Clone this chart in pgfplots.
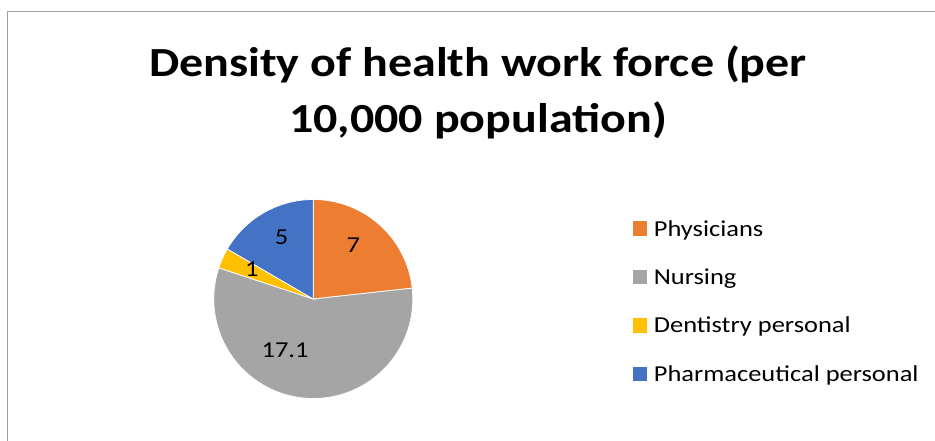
\documentclass[border=0pt]{standalone}
\usepackage{pgfplots}
\pgfplotsset{compat=1.18}
\usepackage{pgfplotstable}
\usepackage{fontspec}
\setmainfont{Carlito}[FakeStretch=1.16]
\definecolor{cPhy}{HTML}{ED7D31}
\definecolor{cNur}{HTML}{A5A5A5}
\definecolor{cDen}{HTML}{FFC000}
\definecolor{cPha}{HTML}{4472C4}
\definecolor{cFrame}{HTML}{A0A0A0}

\pgfplotstableread{
name value
Physicians 7
Nursing 17.1
Dentistry 1
Pharmaceutical 5
}\piedata

\begin{document}
\begin{tikzpicture}
\pgfplotstablegetelem{0}{value}\of\piedata \let\vA\pgfplotsretval
\pgfplotstablegetelem{1}{value}\of\piedata \let\vB\pgfplotsretval
\pgfplotstablegetelem{2}{value}\of\piedata \let\vC\pgfplotsretval
\pgfplotstablegetelem{3}{value}\of\piedata \let\vD\pgfplotsretval
\pgfmathsetmacro\tot{\vA+\vB+\vC+\vD}
\pgfmathsetmacro\aO{90}
\pgfmathsetmacro\aA{\aO-360*\vA/\tot}
\pgfmathsetmacro\aB{\aA-360*\vB/\tot}
\pgfmathsetmacro\aC{\aB-360*\vC/\tot}
\pgfmathsetmacro\aD{\aC-360*\vD/\tot}

\path[use as bounding box] (0,0) rectangle (935bp,-441bp);
\draw[cFrame, line width=0.75bp] (936bp,-11.5bp) -- (7.5bp,-11.5bp) -- (7.5bp,-442bp);

\node[font=\bfseries\fontsize{41.4bp}{48bp}\selectfont, anchor=base, inner sep=0pt] at (478bp,-76bp) {Density of health work force (per};
\node[font=\bfseries\fontsize{41.4bp}{48bp}\selectfont, anchor=base, inner sep=0pt] at (478bp,-132bp) {10,000 population)};

\begin{axis}[
  at={(313.3bp,-299bp)}, anchor=center,
  width=199bp, height=199bp, scale only axis,
  xmin=-1, xmax=1, ymin=-1, ymax=1,
  hide axis, clip=false,
  legend style={draw=none, fill=none, at={(rel axis cs:2.104,0.974)}, anchor=north west,
    inner sep=0pt, outer sep=0pt, row sep=0pt,
    font=\fontsize{22.8bp}{27bp}\selectfont,
    nodes={inner sep=0pt, minimum height=48.4bp}},
  legend cell align=left,
  legend image code/.code={\fill[#1,draw=none] (0bp,-7bp) rectangle (14.5bp,7.5bp); \path (21bp,0bp);},
]
\addplot[fill=cPhy, draw=white, line width=0.75bp, domain=\aA:\aO, samples=80, variable=\t] ({cos(\t)},{sin(\t)}) -- (axis cs:0,0) -- cycle;
\addlegendentry{Physicians}
\addplot[fill=cNur, draw=white, line width=0.75bp, domain=\aB:\aA, samples=120, variable=\t] ({cos(\t)},{sin(\t)}) -- (axis cs:0,0) -- cycle;
\addlegendentry{Nursing}
\addplot[fill=cDen, draw=white, line width=0.75bp, domain=\aC:\aB, samples=20, variable=\t] ({cos(\t)},{sin(\t)}) -- (axis cs:0,0) -- cycle;
\addlegendentry{Dentistry personal}
\addplot[fill=cPha, draw=white, line width=0.75bp, domain=\aD:\aC, samples=60, variable=\t] ({cos(\t)},{sin(\t)}) -- (axis cs:0,0) -- cycle;
\addlegendentry{Pharmaceutical personal}

\node[font=\fontsize{22.8bp}{27bp}\selectfont] at (axis cs:0.402,0.543) {7};
\node[font=\fontsize{22.8bp}{27bp}\selectfont] at (axis cs:-0.318,0.620) {5};
\node[font=\fontsize{22.8bp}{27bp}\selectfont] at (axis cs:-0.618,0.302) {1};
\node[font=\fontsize{22.8bp}{27bp}\selectfont] at (axis cs:-0.284,-0.513) {17.1};
\end{axis}
\end{tikzpicture}
\end{document}
